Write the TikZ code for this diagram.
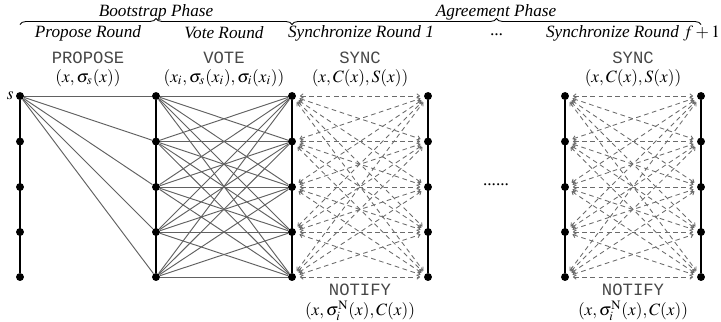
\documentclass[tikz,border=0pt]{standalone}
\usepackage{mathptmx}
\usepackage{fontspec}
\setmainfont{Liberation Serif}
\setmonofont{Liberation Mono}
\usetikzlibrary{decorations.pathreplacing,arrows.meta}
\begin{document}
\begin{tikzpicture}[x=0.58pt,y=-0.58pt,
  dot/.style={circle,fill=black,inner sep=0pt,minimum size=4.6pt},
  rail/.style={line width=1.7pt},
  solidedge/.style={draw=black!62,line width=0.55pt},
  dashedge/.style={draw=black!58,line width=0.5pt,dash pattern=on 2.7pt off 2.1pt,
     {Straight Barb[length=1.6pt,width=2.6pt]}-{Straight Barb[length=1.6pt,width=2.6pt]},shorten <=2pt,shorten >=2pt},
  phase/.style={font=\itshape,inner sep=1pt},
  msg/.style={font=\ttfamily\color{black!72},inner sep=1pt},
  mathlab/.style={inner sep=1pt},
  bracestyle/.style={decorate,decoration={brace,amplitude=3.5pt},line width=0.5pt}]
\useasboundingbox (0,0) rectangle (721,321);
% nodes
\foreach \c/\x in {a/20,b/156,c/292,d/428,e/565,f/701}{
  \foreach \r/\y in {1/96,2/141.5,3/187,4/232,5/277}{
    \node[dot] (\c\r) at (\x,\y) {};
  }
}
% rails
\foreach \c in {a,b,c,d,e,f}{\draw[rail] (\c1) -- (\c5);}
% propose
\foreach \r in {1,...,5}{\draw[solidedge] (a1) -- (b\r);}
% vote
\foreach \i in {1,...,5}{\foreach \j in {1,...,5}{\draw[solidedge] (b\i) -- (c\j);}}
% sync
\foreach \i in {1,...,5}{\foreach \j in {1,...,5}{
  \draw[dashedge] (c\i) -- (d\j);
  \draw[dashedge] (e\i) -- (f\j);}}
% s label
\node[anchor=east,inner sep=1pt] (slab) at (a1.west) {$s$};
% phases and braces
\node[phase] (bp) at (156,12) {Bootstrap Phase};
\node[phase] (ap) at (496,12) {Agreement Phase};
\coordinate (bl) at (20,24.5); \coordinate (br) at (292,24.5);
\coordinate (al) at (292,24.5); \coordinate (ar) at (701,24.5);
\draw[bracestyle] (bl) -- (br);
\draw[bracestyle] (al) -- (ar);
% rounds
\node[phase] (r1) at (88,33) {Propose Round};
\node[phase] (r2) at (224,33) {Vote Round};
\node[phase] (r3) at (361,33) {Synchronize Round 1};
\node[phase] (r4) at (497,35) {...};
\node[phase] (r5) at (633,33) {Synchronize Round $f+1$};
% messages
\node[msg] (m1) at (88,58) {PROPOSE};
\node[mathlab] (m1a) at (88,78) {$(x,\sigma_s(x))$};
\node[msg] (m2) at (224,58) {VOTE};
\node[mathlab] (m2a) at (224,78) {$(x_i,\sigma_s(x_i),\sigma_i(x_i))$};
\node[msg] (m3) at (360,58) {SYNC};
\node[mathlab] (m3a) at (360,78) {$(x,C(x),S(x))$};
\node[msg] (m4) at (633,58) {SYNC};
\node[mathlab] (m4a) at (633,78) {$(x,C(x),S(x))$};
\node[msg] (n3) at (360,290) {NOTIFY};
\node[mathlab] (n3a) at (360,311) {$(x,\sigma_i^{\mathrm{N}}(x),C(x))$};
\node[msg] (n4) at (633,290) {NOTIFY};
\node[mathlab] (n4a) at (633,311) {$(x,\sigma_i^{\mathrm{N}}(x),C(x))$};
\node (gap) at (496,185) {......};
\end{tikzpicture}
\end{document}
